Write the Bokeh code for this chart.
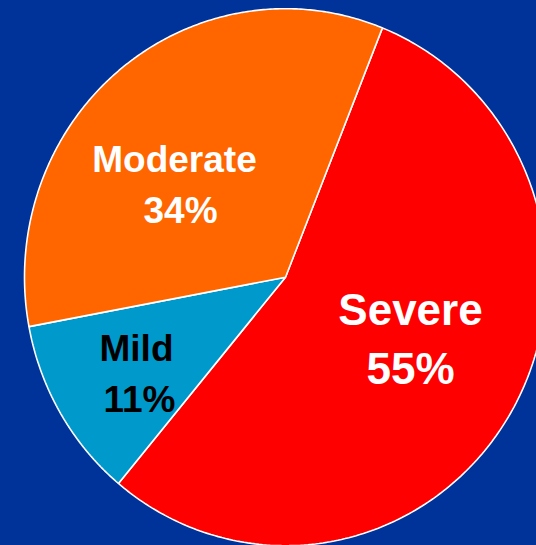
import numpy as np
from bokeh.plotting import figure
from bokeh.models import Range1d, ColumnDataSource, GlobalInlineStyleSheet
from bokeh.core.properties import value
from bokeh.embed import file_html
from bokeh.resources import INLINE

# ---- data ----
categories = ["Severe", "Mild", "Moderate"]
percents = [55, 11, 34]
percent_labels = ["55%", "11%", "34%"]

# ---- style / layout ----
slice_colors = ["#FF0000", "#0099CC", "#FF6600"]
text_colors = ["#FFFFFF", "#000000", "#FFFFFF"]
font_sizes = ["44px", "37px", "37px"]
BG = "#003399"
W, H = 536, 545
CX, CY = 285.0, H - 276.7        # pie centre (data units = pixels)
RX, RY = 261.0, 268.5             # slightly stretched pie, as in the picture
START_DEG = 68.2                  # first slice starts here, going clockwise
# label anchor positions (x centre of line 1, line 2, vertical middle of line 1 and 2, screen px)
label_pos = [(410, 410, 309, 368), (136, 139, 348, 399), (174, 180, 159, 210)]

p = figure(width=W, height=H, x_range=Range1d(0, W), y_range=Range1d(0, H),
           toolbar_location=None, output_backend="svg",
           x_axis_location=None, y_axis_location=None, min_border=0)
p.grid.visible = False
p.outline_line_color = None
p.background_fill_color = BG
p.border_fill_color = BG
p.stylesheets = [GlobalInlineStyleSheet(
    css="html,body{margin:0!important;padding:0;background:#003399;overflow:hidden}")]

# slices as elliptical wedges computed from the percentages
xs, ys = [], []
cum = 0.0
for pct in percents:
    a0 = np.deg2rad(START_DEG - cum / 100.0 * 360.0)
    cum += pct
    a1 = np.deg2rad(START_DEG - cum / 100.0 * 360.0)
    t = np.linspace(a0, a1, 240)
    xs.append([CX] + list(CX + RX * np.cos(t)) + [CX])
    ys.append([CY] + list(CY + RY * np.sin(t)) + [CY])

src = ColumnDataSource(dict(xs=xs, ys=ys, color=slice_colors, cat=categories))
p.patches("xs", "ys", source=src, fill_color="color", line_color="white",
          line_width=1.6)

# labels
for i, cat in enumerate(categories):
    x1, x2, m1, m2 = label_pos[i]
    lsrc = ColumnDataSource(dict(x=[x1, x2], y=[H - m1, H - m2],
                                 t=[cat, percent_labels[i]]))
    p.text("x", "y", text="t", source=lsrc, text_align="center",
           text_baseline="middle", text_color=text_colors[i],
           text_font=value("Liberation Sans"), text_font_style="bold",
           text_font_size=font_sizes[i])

open("out.html", "w").write(file_html(p, INLINE))
